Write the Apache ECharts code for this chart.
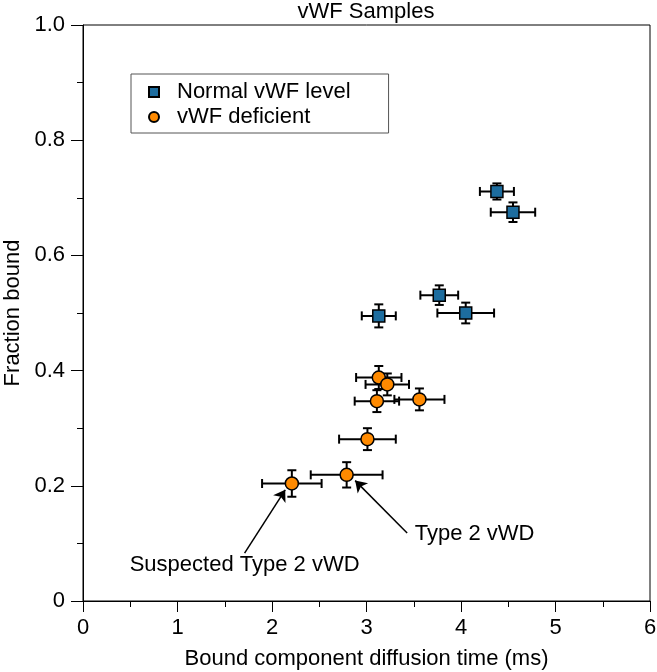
<!DOCTYPE html>
<html>
<head>
<meta charset="utf-8">
<title>vWF Samples</title>
<script src="https://cdn.jsdelivr.net/npm/echarts@6/dist/echarts.min.js"></script>
<style>
  html, body { margin: 0; padding: 0; background: #fff; }
  #main { width: 657px; height: 672px; }
</style>
</head>
<body>
<div id="main"></div>
<script>
// Normal vWF level (squares)
var normalX    = [4.38, 4.55, 3.77, 4.05, 3.13];
var normalY    = [0.711, 0.675, 0.531, 0.500, 0.495];
var normalXErr = [0.18, 0.235, 0.20, 0.30, 0.18];
var normalYErr = [0.014, 0.017, 0.017, 0.018, 0.02];

// vWF deficient (circles)
var deficientX    = [3.13, 3.22, 3.11, 3.56, 3.01, 2.21, 2.79];
var deficientY    = [0.388, 0.376, 0.347, 0.350, 0.281, 0.204, 0.219];
var deficientXErr = [0.24, 0.23, 0.235, 0.265, 0.30, 0.315, 0.38];
var deficientYErr = [0.02, 0.019, 0.019, 0.019, 0.019, 0.023, 0.022];

var seriesNames = ['Normal vWF level', 'vWF deficient'];
var xTickLabels = ['0', '1', '2', '3', '4', '5', '6'];
var yTickLabels = ['0', '0.2', '0.4', '0.6', '0.8', '1.0'];

// annotations (data coordinates)
var annotText   = ['Type 2 vWD', 'Suspected Type 2 vWD'];
var annotAt     = [[3.51, 0.116], [1.71, 0.0625]];
var arrowFrom   = [[3.43, 0.118], [1.71, 0.083]];
var arrowTo     = [[2.88, 0.209], [2.14, 0.193]];

var FONT = 'Liberation Sans, Arial, Helvetica, sans-serif';
var BLUE = '#1d6d9f';
var ORANGE = '#ff8a00';

function zip4(a, b, c, d) {
  var out = [];
  for (var i = 0; i < a.length; i++) out.push([a[i], b[i], c[i], d[i]]);
  return out;
}

// error bars: horizontal + vertical with caps
function errorBars(xs, ys, xe, ye) {
  return {
    type: 'custom',
    silent: true,
    z: 1,
    data: zip4(xs, ys, xe, ye),
    encode: { x: 0, y: 1 },
    renderItem: function (params, api) {
      var x = api.value(0), y = api.value(1), dx = api.value(2), dy = api.value(3);
      var l = api.coord([x - dx, y]), r = api.coord([x + dx, y]);
      var t = api.coord([x, y + dy]), b = api.coord([x, y - dy]);
      var c = 4.5;
      var st = { stroke: '#000', lineWidth: 2 };
      function ln(x1, y1, x2, y2) {
        return { type: 'line', shape: { x1: x1, y1: y1, x2: x2, y2: y2 }, style: st };
      }
      return {
        type: 'group',
        children: [
          ln(l[0], l[1], r[0], r[1]),
          ln(l[0], l[1] - c, l[0], l[1] + c),
          ln(r[0], r[1] - c, r[0], r[1] + c),
          ln(t[0], t[1], b[0], b[1]),
          ln(t[0] - c, t[1], t[0] + c, t[1]),
          ln(b[0] - c, b[1], b[0] + c, b[1])
        ]
      };
    }
  };
}

function pairs(xs, ys) {
  return xs.map(function (x, i) { return [x, ys[i]]; });
}

var arrowLines = arrowFrom.map(function (p, i) {
  return [{ coord: p }, { coord: arrowTo[i] }];
});

var annotPoints = annotText.map(function (t, i) {
  return {
    name: t,
    coord: annotAt[i],
    label: { position: i === 0 ? 'right' : 'inside', distance: 0 }
  };
});

var myChart = echarts.init(document.getElementById('main'));

var option = {
  animation: false,
  textStyle: { fontFamily: FONT },
  title: {
    text: 'vWF Samples',
    left: 366,
    textAlign: 'center',
    top: 1,
    padding: 0,
    textStyle: { fontFamily: FONT, fontSize: 22, fontWeight: 'normal', color: '#000' }
  },
  legend: {
    orient: 'vertical',
    left: 131,
    top: 74,
    padding: [7, 38, 5, 17],
    itemGap: 3,
    itemWidth: 10,
    itemHeight: 10,
    borderColor: '#555',
    borderWidth: 1,
    textStyle: { fontFamily: FONT, fontSize: 22, color: '#000', padding: [0, 0, 0, 13] },
    data: [
      { name: seriesNames[0], icon: 'rect' },
      { name: seriesNames[1], icon: 'circle' }
    ]
  },
  grid: {
    left: 83, right: 7, top: 25, bottom: 71,
    outerBoundsMode: 'none',
    show: true, borderColor: '#000', borderWidth: 1
  },
  xAxis: {
    type: 'value',
    min: 0, max: 6, interval: 1,
    name: 'Bound component diffusion time (ms)',
    nameLocation: 'middle',
    nameGap: 47,
    nameTextStyle: { fontFamily: FONT, fontSize: 22, color: '#000' },
    axisLine: { lineStyle: { color: '#000', width: 1 } },
    axisTick: { show: true, inside: false, length: 11, lineStyle: { color: '#000' } },
    minorTick: { show: true, splitNumber: 2, length: 6, lineStyle: { color: '#000' } },
    splitLine: { show: false },
    axisLabel: {
      margin: 16, fontFamily: FONT, fontSize: 22, color: '#000',
      formatter: function (v, idx) { return xTickLabels[idx]; }
    }
  },
  yAxis: {
    type: 'value',
    min: 0, max: 1, interval: 0.2,
    name: 'Fraction bound',
    nameLocation: 'middle',
    nameGap: 59,
    nameTextStyle: { fontFamily: FONT, fontSize: 22, color: '#000' },
    axisLine: { show: true, lineStyle: { color: '#000', width: 1 } },
    axisTick: { show: true, inside: false, length: 12, lineStyle: { color: '#000' } },
    minorTick: { show: true, splitNumber: 2, length: 6, lineStyle: { color: '#000' } },
    splitLine: { show: false },
    axisLabel: {
      margin: 18, fontFamily: FONT, fontSize: 22, color: '#000',
      formatter: function (v, idx) { return yTickLabels[idx]; }
    }
  },
  series: [
    errorBars(normalX, normalY, normalXErr, normalYErr),
    errorBars(deficientX, deficientY, deficientXErr, deficientYErr),
    {
      name: seriesNames[0],
      type: 'scatter',
      z: 3,
      symbol: 'rect',
      symbolSize: 12,
      itemStyle: { color: BLUE, borderColor: '#000', borderWidth: 1.5, opacity: 1 },
      data: pairs(normalX, normalY)
    },
    {
      name: seriesNames[1],
      type: 'scatter',
      z: 3,
      symbol: 'circle',
      symbolSize: 13,
      itemStyle: { color: ORANGE, borderColor: '#000', borderWidth: 1.5, opacity: 1 },
      data: pairs(deficientX, deficientY),
      markLine: {
        silent: true,
        symbol: ['none', 'arrow'],
        symbolSize: 11,
        lineStyle: { color: '#000', width: 1.5, type: 'solid' },
        label: { show: false },
        data: arrowLines
      },
      markPoint: {
        silent: true,
        symbol: 'circle',
        symbolSize: 0,
        label: {
          show: true, color: '#000', fontFamily: FONT, fontSize: 22,
          formatter: '{b}'
        },
        data: annotPoints
      }
    }
  ]
};

myChart.setOption(option);
</script>
</body>
</html>
